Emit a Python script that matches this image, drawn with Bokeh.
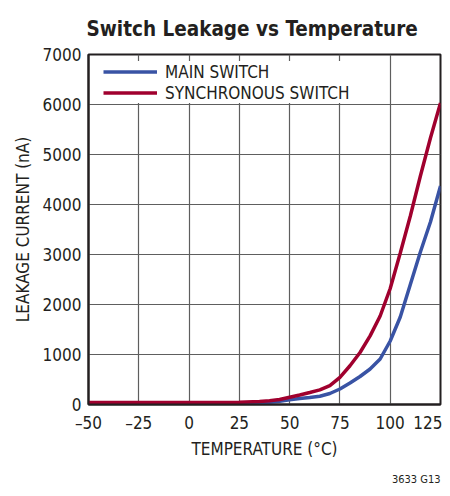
from bokeh.plotting import figure
from bokeh.models import Range1d, FixedTicker, Legend, LegendItem, Title
from bokeh.embed import file_html
from bokeh.resources import INLINE

temperature = [-50, -25, 0, 25, 35, 40, 45, 50, 55, 60, 65, 70, 75, 80, 85, 90, 95, 100, 105, 110, 115, 120, 125]
main_switch = [30, 30, 30, 30, 35, 45, 65, 95, 120, 140, 165, 220, 310, 430, 560, 710, 910, 1270, 1750, 2400, 3050, 3650, 4370]
sync_switch = [40, 40, 40, 45, 60, 75, 100, 145, 190, 240, 292, 378, 543, 775, 1040, 1372, 1770, 2320, 3030, 3770, 4570, 5330, 6030]
x_ticks = [-50, -25, 0, 25, 50, 75, 100, 125]
x_tick_labels = {-50: "\u201350", -25: "\u201325", 0: "0", 25: "25", 50: "50", 75: "75", 100: "100", 125: "125"}
y_ticks = [0, 1000, 2000, 3000, 4000, 5000, 6000, 7000]

FONT = "DejaVu Sans Condensed, Roboto Condensed, Liberation Sans"
DARK = "#231f20"

p = figure(width=442, height=495, output_backend="svg", toolbar_location=None,
           x_range=Range1d(-50, 125), y_range=Range1d(0, 7000),
           min_border_left=88, min_border_right=2, min_border_top=52, min_border_bottom=84,
           title="Switch Leakage vs Temperature")
p.title.text_font = FONT
p.title.text_font_style = "bold"
p.title.text_font_size = "20.5px"
p.title.text_color = DARK
p.title.align = "left"
p.title.offset = -2
p.title.standoff = 28

p.outline_line_color = DARK
p.outline_line_width = 2
p.background_fill_color = "white"
p.border_fill_color = "white"

for ax in (p.xaxis[0], p.yaxis[0]):
    ax.axis_line_color = DARK
    ax.axis_line_width = 2
    ax.major_tick_in = 0
    ax.major_tick_out = 0
    ax.minor_tick_line_color = None
    ax.major_label_text_font = FONT
    ax.major_label_text_font_size = "17px"
    ax.major_label_text_color = DARK
    ax.axis_label_text_font = FONT
    ax.axis_label_text_font_size = "17px"
    ax.axis_label_text_font_style = "normal"
    ax.axis_label_text_color = DARK

p.xaxis.ticker = FixedTicker(ticks=x_ticks)
p.xaxis.major_label_overrides = x_tick_labels
p.xaxis.axis_label = "TEMPERATURE (\u00b0C)"
p.xaxis.major_label_standoff = 8
p.xaxis.axis_label_standoff = 3
p.yaxis.ticker = FixedTicker(ticks=y_ticks)
p.yaxis.axis_label = "LEAKAGE CURRENT (nA)"
p.yaxis.major_label_standoff = 7
p.yaxis.axis_label_standoff = 7

p.xgrid.ticker = FixedTicker(ticks=x_ticks)
p.ygrid.ticker = FixedTicker(ticks=y_ticks)
p.grid.grid_line_color = "#5e5e5e"
p.grid.grid_line_width = 1.2

r_main = p.line(temperature, main_switch, line_color="#3953a4", line_width=3.5)
r_sync = p.line(temperature, sync_switch, line_color="#a0002e", line_width=3.5)

legend = Legend(items=[LegendItem(label="MAIN SWITCH", renderers=[r_main]),
                       LegendItem(label="SYNCHRONOUS SWITCH", renderers=[r_sync])],
                location=(15, 352 - 51), padding=4, spacing=0, glyph_width=54, glyph_height=21,
                label_height=21, label_standoff=8, border_line_color=None,
                background_fill_color="white", background_fill_alpha=1.0,
                label_text_font=FONT, label_text_font_size="17px", label_text_color=DARK)
p.add_layout(legend, "center")

foot = Title(text="3633 G13", align="right", text_font=FONT, text_font_size="11px",
             text_font_style="normal", text_color=DARK, standoff=19)
p.add_layout(foot, "below")

open("out.html", "w").write(file_html(p, INLINE))
